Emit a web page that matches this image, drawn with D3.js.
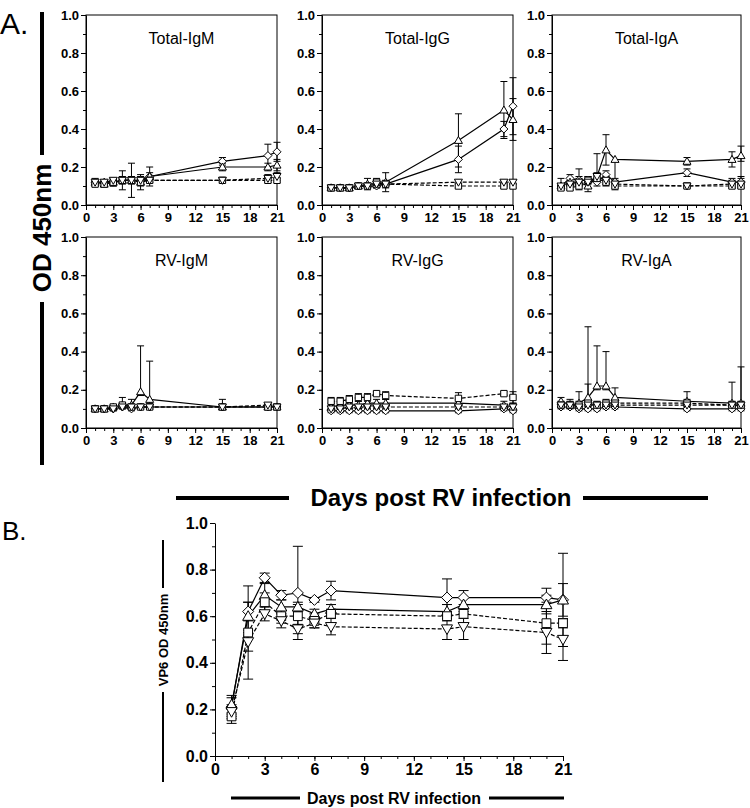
<!DOCTYPE html>
<html><head><meta charset="utf-8">
<script src="https://cdn.jsdelivr.net/npm/d3@7"></script>
<style>
body{margin:0;background:#fff;}
svg{display:block;font-family:"Liberation Sans",Arial,sans-serif;}
</style></head>
<body><svg id="c" width="750" height="808"></svg>
<script>
// ---------- DATA ----------
const daysA = [1,2,3,4,5,6,7,15,20,21];
const daysB = [1,2,3,4,5,6,7,14,15,20,21];
const seriesShapes = ["diamond","triangle","square","triangleDown"];
const seriesDashed = [false,false,true,true];
const panelTitles = ["Total-IgM","Total-IgG","Total-IgA","RV-IgM","RV-IgG","RV-IgA"];
const yTicks = [0,0.2,0.4,0.6,0.8,1.0];
const xTicks = [0,3,6,9,12,15,18,21];

// order of each: diamond, triangle, square, inverted triangle
const totalIgM_mean = [
  [0.12,0.12,0.12,0.13,0.13,0.13,0.15,0.23,0.26,0.28],
  [0.12,0.11,0.12,0.13,0.13,0.12,0.15,0.20,0.20,0.21],
  [0.11,0.11,0.12,0.13,0.13,0.12,0.13,0.13,0.13,0.13],
  [0.12,0.12,0.13,0.13,0.13,0.13,0.13,0.13,0.14,0.15]];
const totalIgM_sd = [
  [0.01,0.01,0.01,0.02,0.02,0.02,0.02,0.02,0.06,0.05],
  [0.02,0.01,0.02,0.05,0.09,0.02,0.05,0.02,0.02,0.03],
  [0.01,0.01,0.02,0.01,0.01,0.04,0.01,0.01,0.01,0.01],
  [0.01,0.01,0.01,0.01,0.01,0.01,0.01,0.01,0.02,0.02]];

const totalIgG_mean = [
  [0.09,0.09,0.09,0.10,0.10,0.10,0.11,0.24,0.40,0.52],
  [0.09,0.09,0.09,0.10,0.11,0.11,0.12,0.34,0.50,0.45],
  [0.09,0.09,0.09,0.10,0.10,0.12,0.11,0.10,0.10,0.10],
  [0.09,0.09,0.09,0.10,0.10,0.11,0.11,0.12,0.12,0.12]];
const totalIgG_sd = [
  [0.01,0.01,0.01,0.01,0.01,0.01,0.02,0.07,0.04,0.15],
  [0.01,0.01,0.01,0.01,0.03,0.02,0.05,0.14,0.15,0.11],
  [0.01,0.01,0.01,0.01,0.01,0.02,0.01,0.01,0.01,0.01],
  [0.01,0.01,0.01,0.01,0.01,0.01,0.01,0.01,0.01,0.01]];

const totalIgA_mean = [
  [0.10,0.14,0.13,0.13,0.12,0.16,0.12,0.17,0.12,0.12],
  [0.10,0.12,0.12,0.10,0.15,0.29,0.24,0.23,0.24,0.26],
  [0.09,0.09,0.10,0.13,0.14,0.12,0.10,0.10,0.10,0.10],
  [0.10,0.11,0.12,0.12,0.15,0.13,0.11,0.10,0.11,0.11]];
const totalIgA_sd = [
  [0.01,0.02,0.02,0.02,0.02,0.02,0.02,0.02,0.02,0.02],
  [0.04,0.02,0.07,0.03,0.12,0.08,0.00,0.02,0.04,0.05],
  [0.01,0.01,0.02,0.01,0.02,0.02,0.02,0.01,0.01,0.01],
  [0.01,0.01,0.02,0.03,0.02,0.02,0.02,0.01,0.02,0.04]];
const totalIgA_sdLow = [
  [0.01,0.02,0.02,0.02,0.02,0.02,0.02,0.02,0.02,0.02],
  [0.01,0.02,0.02,0.03,0.02,0.08,0.12,0.02,0.04,0.03],
  [0.01,0.01,0.02,0.01,0.02,0.02,0.02,0.01,0.01,0.01],
  [0.01,0.01,0.02,0.03,0.02,0.02,0.02,0.01,0.02,0.02]];

const rvIgM_mean = [
  [0.10,0.10,0.10,0.11,0.10,0.11,0.11,0.11,0.11,0.11],
  [0.10,0.10,0.11,0.12,0.12,0.19,0.15,0.11,0.11,0.11],
  [0.10,0.10,0.11,0.12,0.11,0.11,0.11,0.11,0.11,0.11],
  [0.10,0.10,0.10,0.11,0.11,0.11,0.11,0.11,0.12,0.11]];
const rvIgM_sd = [
  [0.01,0.01,0.01,0.01,0.01,0.01,0.01,0.01,0.01,0.01],
  [0.01,0.01,0.01,0.04,0.03,0.24,0.20,0.04,0.01,0.01],
  [0.01,0.01,0.01,0.01,0.01,0.01,0.01,0.01,0.01,0.01],
  [0.01,0.01,0.01,0.01,0.01,0.01,0.01,0.01,0.01,0.01]];
const rvIgM_sdLow = [
  [0.01,0.01,0.01,0.01,0.01,0.01,0.01,0.01,0.01,0.01],
  [0.01,0.01,0.01,0.01,0.01,0.02,0.02,0.01,0.01,0.01],
  [0.01,0.01,0.01,0.01,0.01,0.01,0.01,0.01,0.01,0.01],
  [0.01,0.01,0.01,0.01,0.01,0.01,0.01,0.01,0.01,0.01]];

const rvIgG_mean = [
  [0.09,0.09,0.09,0.09,0.09,0.09,0.09,0.09,0.10,0.09],
  [0.11,0.12,0.12,0.12,0.13,0.13,0.13,0.13,0.12,0.11],
  [0.14,0.14,0.15,0.16,0.16,0.18,0.17,0.155,0.18,0.16],
  [0.10,0.10,0.11,0.11,0.11,0.11,0.11,0.11,0.11,0.11]];
const rvIgG_sd = [
  [0.01,0.01,0.01,0.01,0.01,0.01,0.01,0.01,0.01,0.01],
  [0.02,0.02,0.02,0.02,0.02,0.02,0.02,0.02,0.02,0.02],
  [0.02,0.02,0.02,0.02,0.02,0.01,0.02,0.03,0.01,0.03],
  [0.01,0.01,0.01,0.01,0.01,0.01,0.01,0.01,0.01,0.01]];

const rvIgA_mean = [
  [0.11,0.11,0.10,0.10,0.10,0.11,0.11,0.10,0.10,0.10],
  [0.14,0.12,0.13,0.16,0.22,0.22,0.16,0.14,0.13,0.13],
  [0.12,0.12,0.12,0.13,0.12,0.13,0.13,0.13,0.12,0.12],
  [0.12,0.12,0.11,0.12,0.12,0.12,0.12,0.12,0.12,0.12]];
const rvIgA_sd = [
  [0.01,0.01,0.01,0.01,0.01,0.01,0.01,0.01,0.01,0.01],
  [0.02,0.03,0.06,0.37,0.21,0.18,0.05,0.05,0.11,0.19],
  [0.02,0.02,0.02,0.10,0.02,0.02,0.02,0.02,0.02,0.02],
  [0.01,0.01,0.01,0.01,0.01,0.01,0.01,0.01,0.01,0.01]];
const rvIgA_sdLow = [
  [0.01,0.01,0.01,0.01,0.01,0.01,0.01,0.01,0.01,0.01],
  [0.02,0.01,0.01,0.02,0.02,0.02,0.02,0.02,0.02,0.02],
  [0.01,0.01,0.01,0.01,0.01,0.01,0.01,0.01,0.01,0.01],
  [0.01,0.01,0.01,0.01,0.01,0.01,0.01,0.01,0.01,0.01]];

const vp6_mean = [
  [0.21,0.62,0.765,0.69,0.70,0.67,0.71,0.68,0.68,0.68,0.67],
  [0.22,0.60,0.69,0.64,0.64,0.61,0.63,0.62,0.65,0.65,0.67],
  [0.17,0.53,0.66,0.60,0.60,0.58,0.61,0.60,0.61,0.57,0.57],
  [0.19,0.49,0.61,0.58,0.545,0.57,0.555,0.545,0.555,0.53,0.50]];
const vp6_sd = [
  [0.04,0.04,0.02,0.02,0.20,0.01,0.04,0.08,0.03,0.04,0.20],
  [0.04,0.06,0.05,0.03,0.02,0.02,0.02,0.03,0.03,0.04,0.07],
  [0.03,0.20,0.04,0.03,0.05,0.03,0.02,0.02,0.02,0.09,0.02],
  [0.03,0.04,0.03,0.03,0.02,0.02,0.035,0.045,0.055,0.09,0.09]];

const panelMeans = [totalIgM_mean,totalIgG_mean,totalIgA_mean,rvIgM_mean,rvIgG_mean,rvIgA_mean];
const panelSds = [totalIgM_sd,totalIgG_sd,totalIgA_sd,rvIgM_sd,rvIgG_sd,rvIgA_sd];
const panelSdLows = [totalIgM_sd,totalIgG_sd,totalIgA_sdLow,rvIgM_sdLow,rvIgG_sd,rvIgA_sdLow];

// ---------- DRAW ----------
const svg = d3.select("#c");
const FONT = '"Liberation Sans",Arial,sans-serif';

function markerPath(shape, r){
  const p = d3.path();
  if(shape==="diamond"){ p.moveTo(0,-r);p.lineTo(r,0);p.lineTo(0,r);p.lineTo(-r,0);p.closePath(); }
  else if(shape==="triangle"){ p.moveTo(0,-r);p.lineTo(r*1.0,r*0.75);p.lineTo(-r*1.0,r*0.75);p.closePath(); }
  else if(shape==="triangleDown"){ p.moveTo(0,r);p.lineTo(r*1.0,-r*0.75);p.lineTo(-r*1.0,-r*0.75);p.closePath(); }
  else { const s=r*0.8; p.rect(-s,-s,2*s,2*s); }
  return p.toString();
}

function drawPanel(opt){
  const {x0,x1,y0,y1,days,means,sds,sdLows,title,box,tickFont,mr,cap,lw} = opt;
  const x = d3.scaleLinear().domain([0,21]).range([x0,x1]);
  const y = d3.scaleLinear().domain([0,1]).range([y1,y0]);
  const g = svg.append("g");

  if(box){
    g.append("rect").attr("x",x0).attr("y",y0).attr("width",x1-x0).attr("height",y1-y0)
      .attr("fill","none").attr("stroke","#000").attr("stroke-width",1);
  }
  g.append("g").attr("transform",`translate(0,${y1})`)
    .call(d3.axisBottom(x).tickValues(d3.range(0,22,1)).tickSize(3).tickFormat(""))
    .call(a=>a.select(".domain").remove());
  g.append("g").attr("transform",`translate(${x0},0)`)
    .call(d3.axisLeft(y).tickValues(d3.range(0,1.01,0.1)).tickSize(3).tickFormat(""))
    .call(a=>a.select(".domain").remove());
  const xa = g.append("g").attr("transform",`translate(0,${y1})`)
    .call(d3.axisBottom(x).tickValues(xTicks).tickSize(5).tickSizeOuter(0).tickFormat(d3.format("d")).tickPadding(3));
  const ya = g.append("g").attr("transform",`translate(${x0},0)`)
    .call(d3.axisLeft(y).tickValues(yTicks).tickSize(5).tickSizeOuter(0).tickFormat(d3.format(".1f")).tickPadding(2));
  [xa,ya].forEach(a=>{
    a.selectAll("text").attr("font-family",FONT).attr("font-weight","bold").attr("font-size",tickFont).attr("fill","#000");
    a.selectAll("line,path").attr("stroke","#000").attr("stroke-width",1);
  });

  if(title){
    g.append("text").attr("x",(x0+x1)/2).attr("y",y0+29).attr("text-anchor","middle")
      .attr("font-family",FONT).attr("font-size",16).attr("fill","#000").text(title);
  }

  means.forEach((m,si)=>{
    const pts = days.map((d,i)=>({d, v:m[i], up:sds[si][i], lo:sdLows[si][i]}));
    const line = d3.line().x(p=>x(p.d)).y(p=>y(p.v));
    g.append("path").datum(pts).attr("d",line).attr("fill","none").attr("stroke","#000")
      .attr("stroke-width",lw).attr("stroke-dasharray",seriesDashed[si]?"4,2":null);
    const eb = g.append("g");
    pts.forEach(p=>{
      eb.append("line").attr("x1",x(p.d)).attr("x2",x(p.d)).attr("y1",y(p.v+p.up)).attr("y2",y(p.v-p.lo))
        .attr("stroke","#000").attr("stroke-width",1);
      [[p.v+p.up,p.up],[p.v-p.lo,p.lo]].forEach(([vv,e])=>{
        if(e<=0) return;
        eb.append("line").attr("x1",x(p.d)-cap).attr("x2",x(p.d)+cap).attr("y1",y(vv)).attr("y2",y(vv))
          .attr("stroke","#000").attr("stroke-width",1);
      });
    });
  });
  means.forEach((m,si)=>{
    g.append("g").selectAll("path").data(days.map((d,i)=>({d,v:m[i]}))).join("path")
      .attr("transform",p=>`translate(${x(p.d)},${y(p.v)})`)
      .attr("d",markerPath(seriesShapes[si],mr))
      .attr("fill","#fff").attr("stroke","#000").attr("stroke-width",1);
  });
}

const colX = [[86,277],[322,513],[552,741]];
const rowY = [[15,205],[237,428]];
panelTitles.forEach((t,i)=>{
  const c = colX[i%3], r = rowY[Math.floor(i/3)];
  drawPanel({x0:c[0],x1:c[1],y0:r[0],y1:r[1],days:daysA,means:panelMeans[i],sds:panelSds[i],sdLows:panelSdLows[i],
    title:t,box:true,tickFont:13,mr:4,cap:3.5,lw:1.2});
});

drawPanel({x0:215,x1:563,y0:523,y1:756,days:daysB,means:vp6_mean,sds:vp6_sd,sdLows:vp6_sd,
  title:null,box:false,tickFont:16,mr:5.5,cap:5,lw:1.2});

// ---------- LABELS ----------
svg.append("text").attr("x",0).attr("y",34).attr("font-family",FONT).attr("font-size",30).text("A.");
svg.append("text").attr("x",2).attr("y",540).attr("font-family",FONT).attr("font-size",26).text("B.");

// A y label
svg.append("text").attr("transform","translate(51,228) rotate(-90)").attr("text-anchor","middle")
  .attr("font-family",FONT).attr("font-weight","bold").attr("font-size",26).text("OD 450nm");
svg.append("line").attr("x1",42).attr("x2",42).attr("y1",12).attr("y2",155).attr("stroke","#000").attr("stroke-width",4);
svg.append("line").attr("x1",42).attr("x2",42).attr("y1",302).attr("y2",465).attr("stroke","#000").attr("stroke-width",4);

// A x label
svg.append("text").attr("x",441).attr("y",506).attr("text-anchor","middle")
  .attr("font-family",FONT).attr("font-weight","bold").attr("font-size",24).text("Days post RV infection");
svg.append("line").attr("x1",176).attr("x2",289).attr("y1",498).attr("y2",498).attr("stroke","#000").attr("stroke-width",4);
svg.append("line").attr("x1",583).attr("x2",708).attr("y1",498).attr("y2",498).attr("stroke","#000").attr("stroke-width",4);

// B y label
svg.append("text").attr("transform","translate(168,640) rotate(-90)").attr("text-anchor","middle")
  .attr("font-family",FONT).attr("font-weight","bold").attr("font-size",13).text("VP6 OD 450nm");
svg.append("line").attr("x1",163).attr("x2",163).attr("y1",540).attr("y2",588).attr("stroke","#000").attr("stroke-width",2);
svg.append("line").attr("x1",163).attr("x2",163).attr("y1",692).attr("y2",782).attr("stroke","#000").attr("stroke-width",2);

// B x label
svg.append("text").attr("x",394).attr("y",804).attr("text-anchor","middle")
  .attr("font-family",FONT).attr("font-weight","bold").attr("font-size",16).text("Days post RV infection");
svg.append("line").attr("x1",231).attr("x2",300).attr("y1",798).attr("y2",798).attr("stroke","#000").attr("stroke-width",3);
svg.append("line").attr("x1",489).attr("x2",564).attr("y1",798).attr("y2",798).attr("stroke","#000").attr("stroke-width",3);
</script></body></html>
